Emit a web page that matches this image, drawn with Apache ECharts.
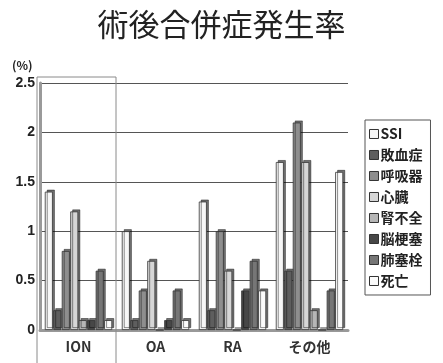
<!DOCTYPE html>
<html><head><meta charset="utf-8">
<script src="https://cdn.jsdelivr.net/npm/echarts@6/dist/echarts.min.js"></script>
<style>html,body{margin:0;padding:0;background:#fff}#c{width:443px;height:363px}</style>
</head><body><div id="c"></div>
<script>
const categories = ['ION', 'OA', 'RA', 'その他'];
const seriesNames = ['SSI', '敗血症', '呼吸器', '心臓', '腎不全', '脳梗塞', '肺塞栓', '死亡'];
const ssi     = [1.4, 1.0, 1.3, 1.7];
const sepsis  = [0.2, 0.1, 0.2, 0.6];
const resp    = [0.8, 0.4, 1.0, 2.1];
const cardiac = [1.2, 0.7, 0.6, 1.7];
const renal   = [0.1, 0.0, 0.0, 0.2];
const stroke  = [0.1, 0.1, 0.4, 0.0];
const pe      = [0.6, 0.4, 0.7, 0.4];
const death   = [0.1, 0.1, 0.4, 1.6];
const yTicks = [0, 0.5, 1, 1.5, 2, 2.5];

const values = [ssi, sepsis, resp, cardiac, renal, stroke, pe, death];
const colors = ['#f7f7f7', '#5e5e5e', '#8e8e8e', '#d6d6d6', '#b6b6b6', '#474747', '#767676', '#fbfbfb'];
const font = '"Noto Sans CJK JP", sans-serif';

const chart = echarts.init(document.getElementById('c'));
chart.setOption({
  animation: false,
  backgroundColor: '#fff',
  title: [
    { text: '術後合併症発生率', left: 'center', top: 4,
      textStyle: { fontFamily: font, fontSize: 31, fontWeight: 'normal', color: '#222' } },
    { text: '(%)', left: 7, top: 54,
      textStyle: { fontFamily: font, fontSize: 12, fontWeight: 'bold', color: '#222' } }
  ],
  legend: {
    orient: 'vertical', left: 365, top: 120,
    data: seriesNames,
    itemWidth: 9, itemHeight: 9, itemGap: 7,
    padding: [7, 8, 7, 4],
    borderColor: '#555', borderWidth: 1,
    icon: 'rect',
    itemStyle: { borderColor: '#333', borderWidth: 1 },
    textStyle: { fontFamily: font, fontSize: 14, fontWeight: 'bold', color: '#222', padding: [0, 0, 0, -3] }
  },
  grid: { left: 40, right: 95, top: 83, bottom: 33 },
  xAxis: {
    type: 'category', data: categories,
    axisLine: { lineStyle: { color: '#999', width: 3 } },
    axisTick: { show: false },
    axisLabel: { fontFamily: font, fontSize: 14, fontWeight: 'bold', color: '#333', margin: 10 }
  },
  yAxis: {
    type: 'value', min: yTicks[0], max: yTicks[yTicks.length - 1], interval: 0.5,
    axisLine: { show: true, lineStyle: { color: '#9a9a9a', width: 3 } },
    axisTick: { show: false },
    axisLabel: { fontFamily: 'Liberation Sans, sans-serif', fontSize: 14, fontWeight: 'bold', color: '#222', margin: 5 },
    splitLine: { lineStyle: { color: '#555', width: 1 } }
  },
  series: seriesNames.map((n, i) => ({
    name: n, type: 'bar', data: values[i],
    barWidth: 8, barGap: '6%',
    itemStyle: { color: colors[i], borderColor: '#333', borderWidth: 0.8,
      shadowColor: 'rgba(0,0,0,0.55)', shadowOffsetX: 2, shadowOffsetY: -2, shadowBlur: 0 }
  }))
});

// highlight box around the first category, positioned from the chart's own scales
const xc = chart.convertToPixel({ xAxisIndex: 0 }, categories[0]);
const xc2 = chart.convertToPixel({ xAxisIndex: 0 }, categories[1]);
const band = xc2 - xc;
const yTop = chart.convertToPixel({ yAxisIndex: 0 }, yTicks[yTicks.length - 1]);
chart.setOption({
  graphic: [{
    type: 'rect', z: 100, silent: true,
    shape: { x: xc - band / 2 - 3, y: yTop - 6, width: band + 2, height: 400 },
    style: { fill: 'none', stroke: '#8a8a8a', lineWidth: 1 }
  }]
});
</script></body></html>
